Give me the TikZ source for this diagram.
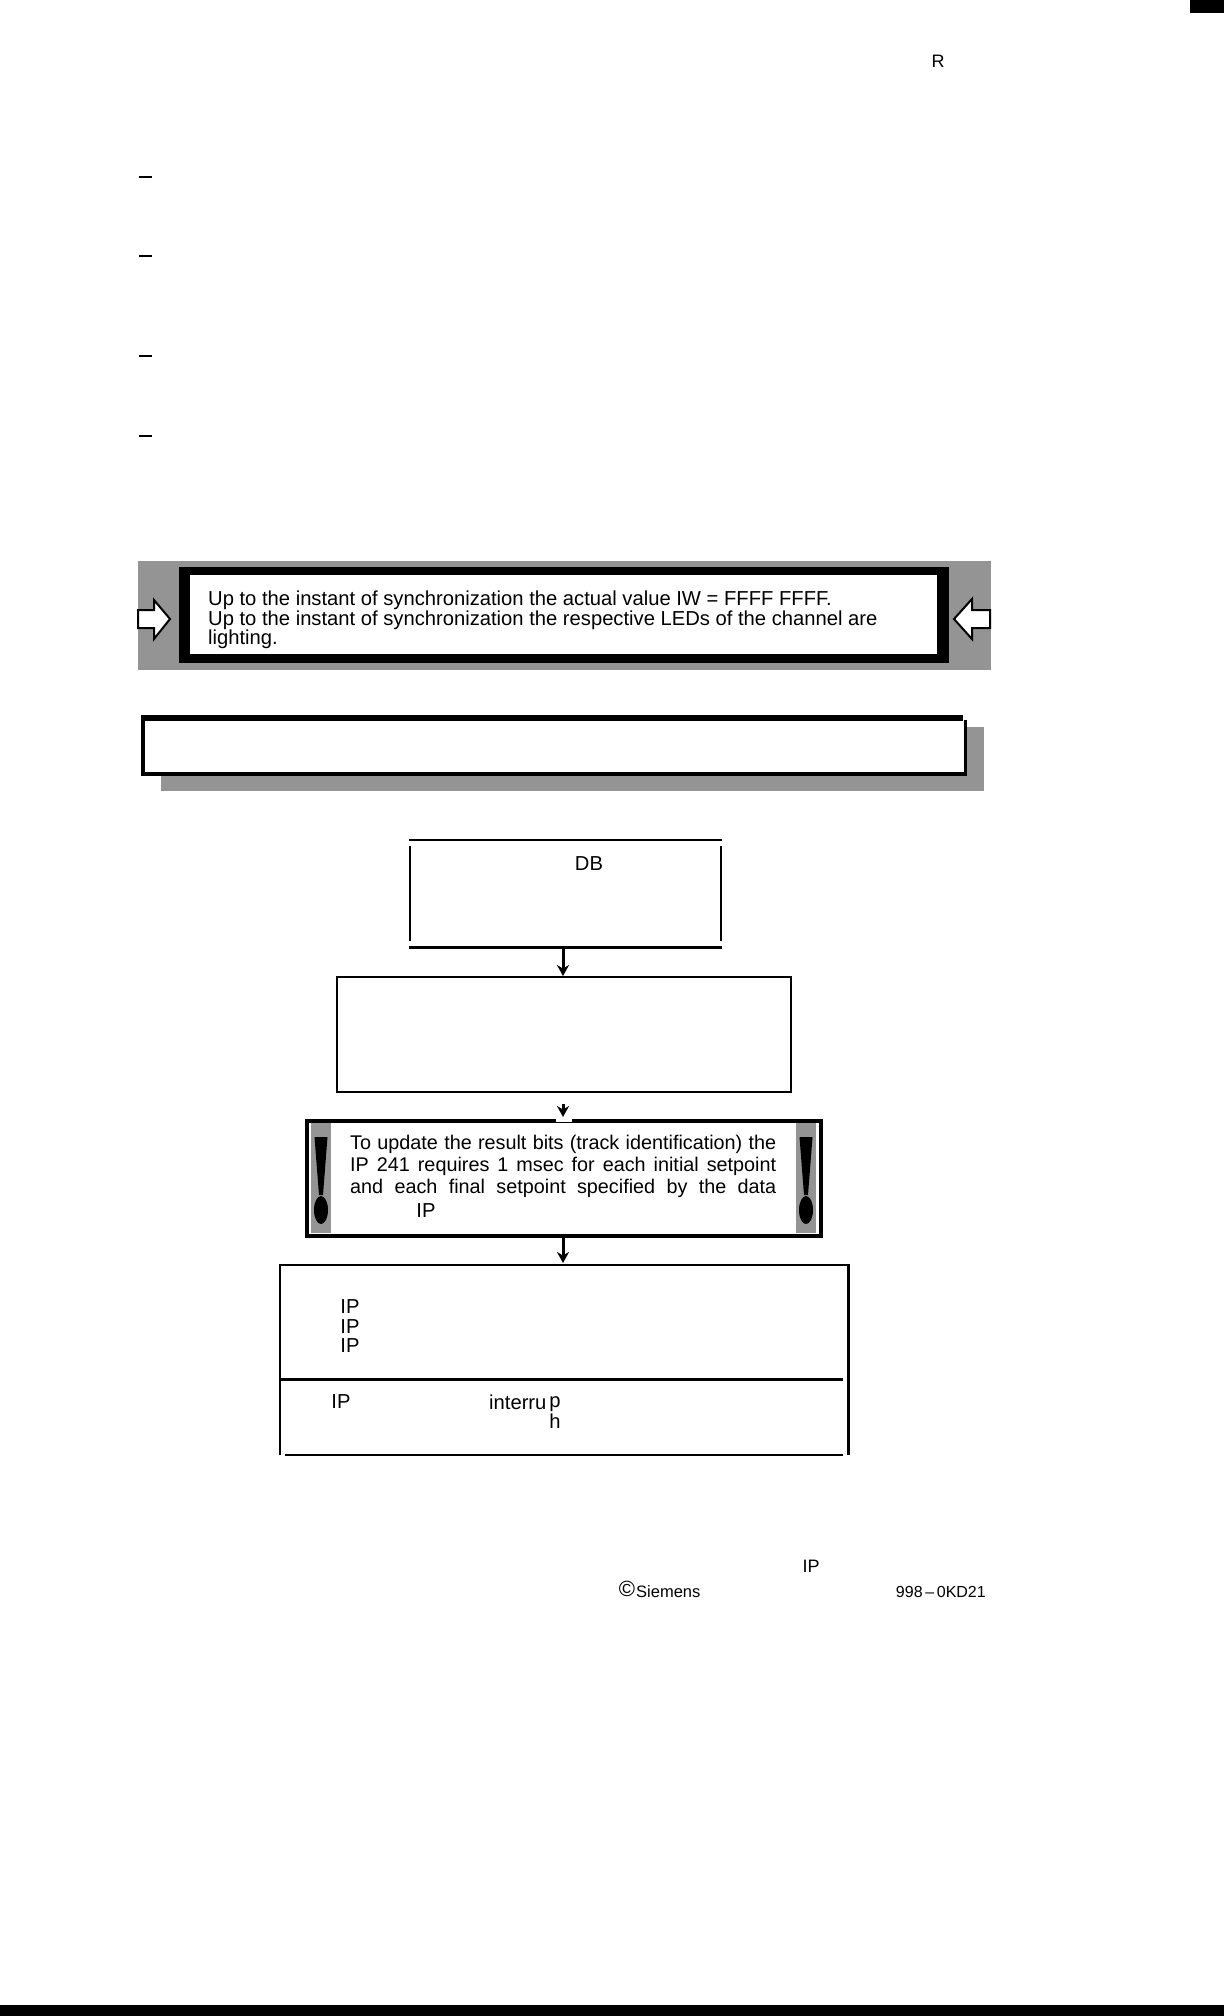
\documentclass[tikz,border=0pt]{standalone}
\usepackage{fontspec}
\setmainfont{Liberation Sans}
\usetikzlibrary{positioning,arrows.meta}
\tikzset{
	boxnode/.style={rectangle,inner sep=0pt,anchor=north west},
	txt/.style={inner sep=0pt,font=\fontsize{20.2}{19.4}\selectfont},
	small/.style={inner sep=0pt,font=\fontsize{16.5}{18}\selectfont},
	flow/.style={-{Stealth[length=11pt,width=12pt]},line width=3pt},
	sidearrow/.style={fill=white,draw=black,line width=2pt,line join=miter},
}
\begin{document}
\begin{tikzpicture}[x=1pt,y=-1pt,>=stealth]
	\useasboundingbox (0,0) rectangle (1224,2016);
	\fill[white] (0,0) rectangle (1224,2016);
	% page marks
	\fill (1190,0) rectangle (1224,13);
	\fill (0,2005) rectangle (1224,2016);
	\node[txt,font=\fontsize{18}{18}\selectfont] (pageR) at (938,61) {R};
	\foreach \y in {177,256,356,436}\draw[line width=2.5pt] (139,\y)--(152,\y);
	% note with arrows
	\fill[black!42] (137.5,560.5) rectangle (991,670);
	\fill (179,567) rectangle (949,663);
	\node[boxnode,fill=white,minimum width=747pt,minimum height=79pt] (notebox) at (190,575) {};
	\draw[sidearrow] (138,610)--(154,610)--(154,600)--(170,619)--(154,639)--(154,628)--(138,628)--cycle;
	\draw[sidearrow] (990,610)--(972,610)--(972,599)--(954,619)--(972,639)--(972,628)--(990,628)--cycle;
	\node[txt,anchor=west,align=left] (notetext) at (208,620) {Up to the instant of synchronization the actual value IW = FFFF FFFF.\\Up to the instant of synchronization the respective LEDs of the channel are\\lighting.};
	% empty framed box
	\fill[black!42] (161,727) rectangle (984,791);
	\node[boxnode,fill=white,minimum width=824pt,minimum height=57pt] (framebox) at (141.5,717) {};
	\draw[line width=6pt] (141,718)--(963,718);
	\draw[line width=3.5pt] (965.5,720)--(965.5,774)--(143,774)--(143,720);
	% flow boxes
	\node[boxnode,minimum width=313pt,minimum height=107pt] (dbbox) at (409,840) {};
	\draw[line width=1.6pt] (dbbox.north west)--(dbbox.north east);
	\draw[line width=2.6pt] (dbbox.south west)--(dbbox.south east);
	\draw[line width=2.4pt] (410,846)--(410,941) (721,846)--(721,941);
	\node[txt] (dbtext) at (589,864) {DB};
	\node[boxnode,draw,line width=2pt,minimum width=454pt,minimum height=114.5pt] (stepbox) at (335.5,976) {};
	% warning box
	\node[boxnode,draw,line width=4pt,minimum width=514pt,minimum height=115pt] (warnbox) at (304.5,1119) {};
	\foreach \x in {311,796}{
		\fill[black!42] (\x,1123) rectangle ++(20,110);
		\fill (\x+3.5,1137)--(\x+16.5,1137)--(\x+12,1195)--(\x+8,1195)--cycle;
		\fill (\x+10,1210) ellipse (7pt and 14pt);
	}
	\fill[white] (556,1115) rectangle (572,1122);
	\node[txt,font=\fontsize{19.8}{22.2}\selectfont,anchor=north west,text width=426pt,align=justify] (warntext) at (350,1135) {To update the result bits (track identification) the\linebreak IP 241 requires 1 msec for each initial setpoint\linebreak and each final setpoint specified by the data\parfillskip=0pt\par};
	\node[txt] (warnip) at (426,1211) {IP};
	% lower box
	\node[boxnode,minimum width=568pt,minimum height=190pt] (resultbox) at (280,1265) {};
	\draw[line width=2.4pt] (resultbox.south west)--(resultbox.north west)--(resultbox.north east)--(resultbox.south east);
	\draw[line width=3pt] (280,1379)--(843,1379);
	\draw[line width=2.4pt] (285,1455)--(843,1455);
	\foreach \y in {1307,1327,1346}\node[txt] at (350,\y) {IP};
	\node[txt] (ipfour) at (341,1402) {IP};
	\node[txt,anchor=west] (interrup) at (489,1402) {interru};
	\node[txt] (letterp) at (555,1404) {p};
	\node[txt] (letterh) at (555,1421) {h};
	% connectors
	\coordinate (axis) at (563,0);
	\draw[flow] (dbbox.south -| axis)--(stepbox.north -| axis);
	\draw[flow,shorten <=11pt,shorten >=2pt] (stepbox.south -| axis)--(warnbox.north -| axis);
	\draw[flow,shorten >=2pt] (warnbox.south -| axis)--(resultbox.north -| axis);
	% footer
	\node[txt,font=\fontsize{18}{18}\selectfont] (footip) at (811,1566) {IP};
	\node[txt,font=\fontsize{22}{24}\selectfont] (copy) at (627,1589) {©};
	\node[small,anchor=west] (siemens) at (636,1592) {Siemens};
	\node[small,font=\fontsize{16}{18}\selectfont,anchor=east] (partno) at (986,1592) {998\,--\,0KD21};
\end{tikzpicture}
\end{document}
